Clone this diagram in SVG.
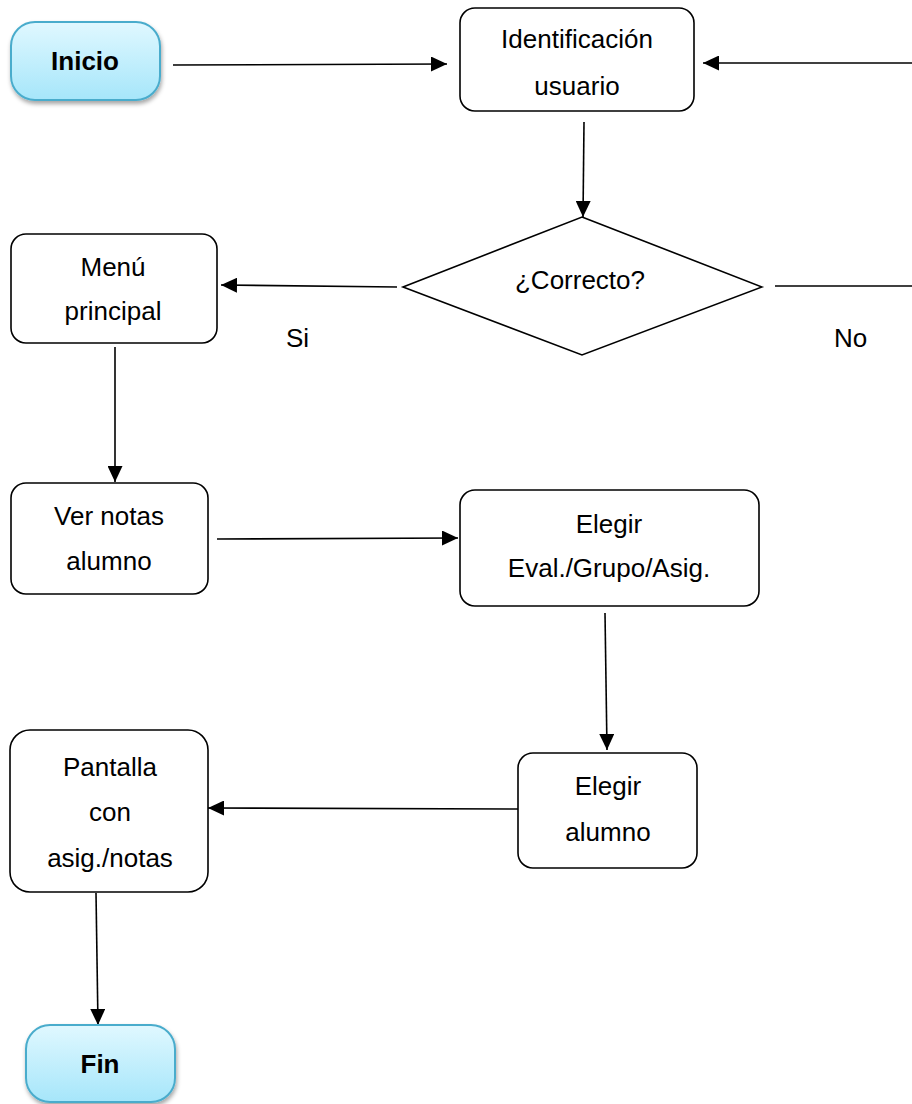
<svg xmlns="http://www.w3.org/2000/svg" width="912" height="1104" viewBox="0 0 912 1104">
  <defs>
    <linearGradient id="termFill" x1="0" y1="0" x2="0" y2="1">
      <stop offset="0" stop-color="#e0f8ff"/>
      <stop offset="1" stop-color="#a6e6fa"/>
    </linearGradient>
    <filter id="termShadow" x="-20%" y="-20%" width="140%" height="150%">
      <feDropShadow dx="1" dy="3" stdDeviation="2" flood-color="#000" flood-opacity="0.35"/>
    </filter>
    <marker id="arrow" markerUnits="userSpaceOnUse" markerWidth="17" markerHeight="15" viewBox="0 0 17 15" refX="16" refY="7.5" orient="auto">
      <path d="M0,0 L16,7.5 L0,15 Z" fill="#000"/>
    </marker>
    <style>
      .box { fill: #fff; stroke: #000; stroke-width: 1.6; }
      .term { fill: url(#termFill); stroke: #4aaccc; stroke-width: 2; filter: url(#termShadow); }
      .lbl { font-family: "Liberation Sans", Arial, sans-serif; font-size: 26px; fill: #000; text-anchor: middle; }
      .termlbl { font-family: "Liberation Sans", Arial, sans-serif; font-size: 26px; font-weight: bold; fill: #000; text-anchor: middle; }
      .free { font-family: "Liberation Sans", Arial, sans-serif; font-size: 26px; fill: #000; }
      .conn { fill: none; stroke: #000; stroke-width: 1.6; }
      .arr { marker-end: url(#arrow); }
    </style>
  </defs>

  <!-- connectors -->
  <g id="connectors">
    <line class="conn arr" x1="173" y1="65" x2="447" y2="64"/>
    <line class="conn arr" x1="912" y1="63" x2="703" y2="63"/>
    <line class="conn arr" x1="584" y1="122" x2="583" y2="217"/>
    <line class="conn arr" x1="397" y1="287" x2="221" y2="285"/>
    <line class="conn" x1="775" y1="286" x2="912" y2="286"/>
    <line class="conn arr" x1="115" y1="347" x2="115" y2="482"/>
    <line class="conn arr" x1="217" y1="539" x2="458" y2="538"/>
    <line class="conn arr" x1="605" y1="613" x2="607" y2="750"/>
    <line class="conn arr" x1="518" y1="809" x2="208" y2="808"/>
    <line class="conn arr" x1="96" y1="893" x2="98" y2="1025"/>
    <text class="free" x="286" y="347">Si</text>
    <text class="free" x="834" y="347">No</text>
  </g>

  <g id="inicio">
    <rect class="term" x="11" y="22" width="149" height="78" rx="24" ry="24"/>
    <text class="termlbl" x="85" y="70">Inicio</text>
  </g>

  <g id="identificacion">
    <rect class="box" x="460" y="8" width="234" height="103" rx="15" ry="15"/>
    <text class="lbl" x="577" y="48">Identificación</text>
    <text class="lbl" x="577" y="95">usuario</text>
  </g>

  <g id="correcto">
    <polygon class="box" points="582,217 762,287 582,355 403,287"/>
    <text class="lbl" x="580" y="289">¿Correcto?</text>
  </g>

  <g id="menu">
    <rect class="box" x="11" y="234" width="206" height="109" rx="15" ry="15"/>
    <text class="lbl" x="113" y="276">Menú</text>
    <text class="lbl" x="113" y="320">principal</text>
  </g>

  <g id="ver-notas">
    <rect class="box" x="11" y="483" width="197" height="111" rx="15" ry="15"/>
    <text class="lbl" x="109" y="525">Ver notas</text>
    <text class="lbl" x="109" y="570">alumno</text>
  </g>

  <g id="elegir-eval">
    <rect class="box" x="460" y="490" width="299" height="116" rx="15" ry="15"/>
    <text class="lbl" x="609" y="533">Elegir</text>
    <text class="lbl" x="609" y="577">Eval./Grupo/Asig.</text>
  </g>

  <g id="elegir-alumno">
    <rect class="box" x="518" y="753" width="179" height="115" rx="15" ry="15"/>
    <text class="lbl" x="608" y="795">Elegir</text>
    <text class="lbl" x="608" y="841">alumno</text>
  </g>

  <g id="pantalla">
    <rect class="box" x="10" y="730" width="198" height="162" rx="20" ry="20"/>
    <text class="lbl" x="110" y="776">Pantalla</text>
    <text class="lbl" x="110" y="821">con</text>
    <text class="lbl" x="110" y="867">asig./notas</text>
  </g>

  <g id="fin">
    <rect class="term" x="26" y="1025" width="149" height="77" rx="24" ry="24"/>
    <text class="termlbl" x="100" y="1073">Fin</text>
  </g>
</svg>
